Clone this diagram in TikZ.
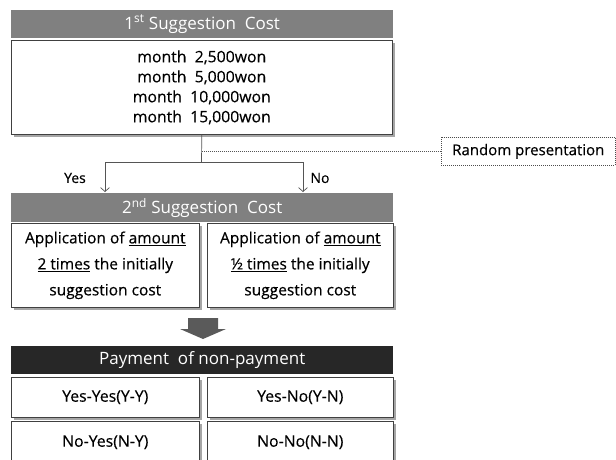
\documentclass[tikz,border=0pt]{standalone}
\usepackage{fontspec}
\setmainfont{Open Sans}
\newfontfamily\bodyfont[FakeBold=0.35]{Open Sans}
\usetikzlibrary{arrows.meta,shadows}
\definecolor{hgray}{HTML}{808080}
\definecolor{hdark}{HTML}{272727}
\definecolor{lgray}{HTML}{555555}
\definecolor{agray}{HTML}{5A5A5A}
\begin{document}
\begin{tikzpicture}[x=1pt,y=-1pt,
  hdr/.style={fill=hgray, text=white, inner sep=0pt, minimum width=382pt, minimum height=28pt,
    anchor=north west, font=\fontsize{17}{20}\selectfont},
  sbox/.style={draw=black!75, line width=0.6pt, fill=white, inner sep=0pt, anchor=north west,
    align=center, font=\bodyfont\fontsize{15.8}{20}\selectfont,
    drop shadow={shadow xshift=2.5pt, shadow yshift=-2.5pt, fill=black!50, opacity=0.7}},
  rbox/.style={draw=black!70, dash pattern=on 1pt off 1pt, line width=0.6pt, inner sep=0pt,
    anchor=north west, font=\bodyfont\fontsize{15}{18}\selectfont},
  conn/.style={draw=lgray, line width=0.7pt},
  arr/.style={conn, -{Straight Barb[length=4pt,width=9pt]}},
  lbl/.style={font=\bodyfont\fontsize{14}{16}\selectfont, inner sep=0pt}
]
\useasboundingbox (0,0) rectangle (616,459);

% first stage
\node[hdr] (h1) at (11,10) {1\textsuperscript{st} Suggestion\ \ Cost};
\node[sbox, minimum width=381pt, minimum height=94pt] (b1) at (11,40)
  {month\ \ 2,500won\\month\ \ 5,000won\\month\ \ 10,000won\\month\ \ 15,000won};

\node[rbox, minimum width=174pt, minimum height=28pt] (rp) at (441,137) {Random presentation};

\coordinate (br) at (201.5,162);
\coordinate (ya) at (105,192);
\coordinate (na) at (303,192);
\draw[conn] (b1.south) -- (br);
\draw[conn, dash pattern=on 1pt off 1pt, line width=0.5pt] (b1.south |- rp.west) -- (rp.west);
\draw[arr] (br) -| (ya);
\draw[arr] (br) -| (na);
\node[lbl] (yes) at (75,178) {Yes};
\node[lbl] (no) at (320,178) {No};

% second stage
\node[hdr, minimum height=29pt] (h2) at (11,193) {2\textsuperscript{nd} Suggestion\ \ Cost};
\node[sbox, minimum width=188pt, minimum height=84pt, font=\bodyfont\fontsize{15.5}{26}\selectfont] (b2l) at (11,223)
  {Application of \underline{amount}\\\underline{2 times} the initially\\suggestion cost};
\node[sbox, minimum width=186pt, minimum height=84pt, font=\bodyfont\fontsize{15.5}{26}\selectfont] (b2r) at (207,223)
  {Application of \underline{amount}\\\underline{\textonehalf\ times} the initially\\suggestion cost};

% block arrow
\fill[agray] (188,318) -- (218,318) -- (218,329) -- (226,329) -- (203,339) -- (180,329) -- (188,329) -- cycle;

% result
\node[hdr, fill=hdark] (h3) at (11,346) {Payment\ \ of non-payment};
\node[sbox, minimum width=188pt, minimum height=40pt] (yy) at (11,377) {Yes-Yes(Y-Y)};
\node[sbox, minimum width=186pt, minimum height=40pt] (yn) at (207,377) {Yes-No(Y-N)};
\node[sbox, minimum width=188pt, minimum height=42pt] (ny) at (11,421) {No-Yes(N-Y)};
\node[sbox, minimum width=186pt, minimum height=42pt] (nn) at (207,421) {No-No(N-N)};
\end{tikzpicture}
\end{document}
